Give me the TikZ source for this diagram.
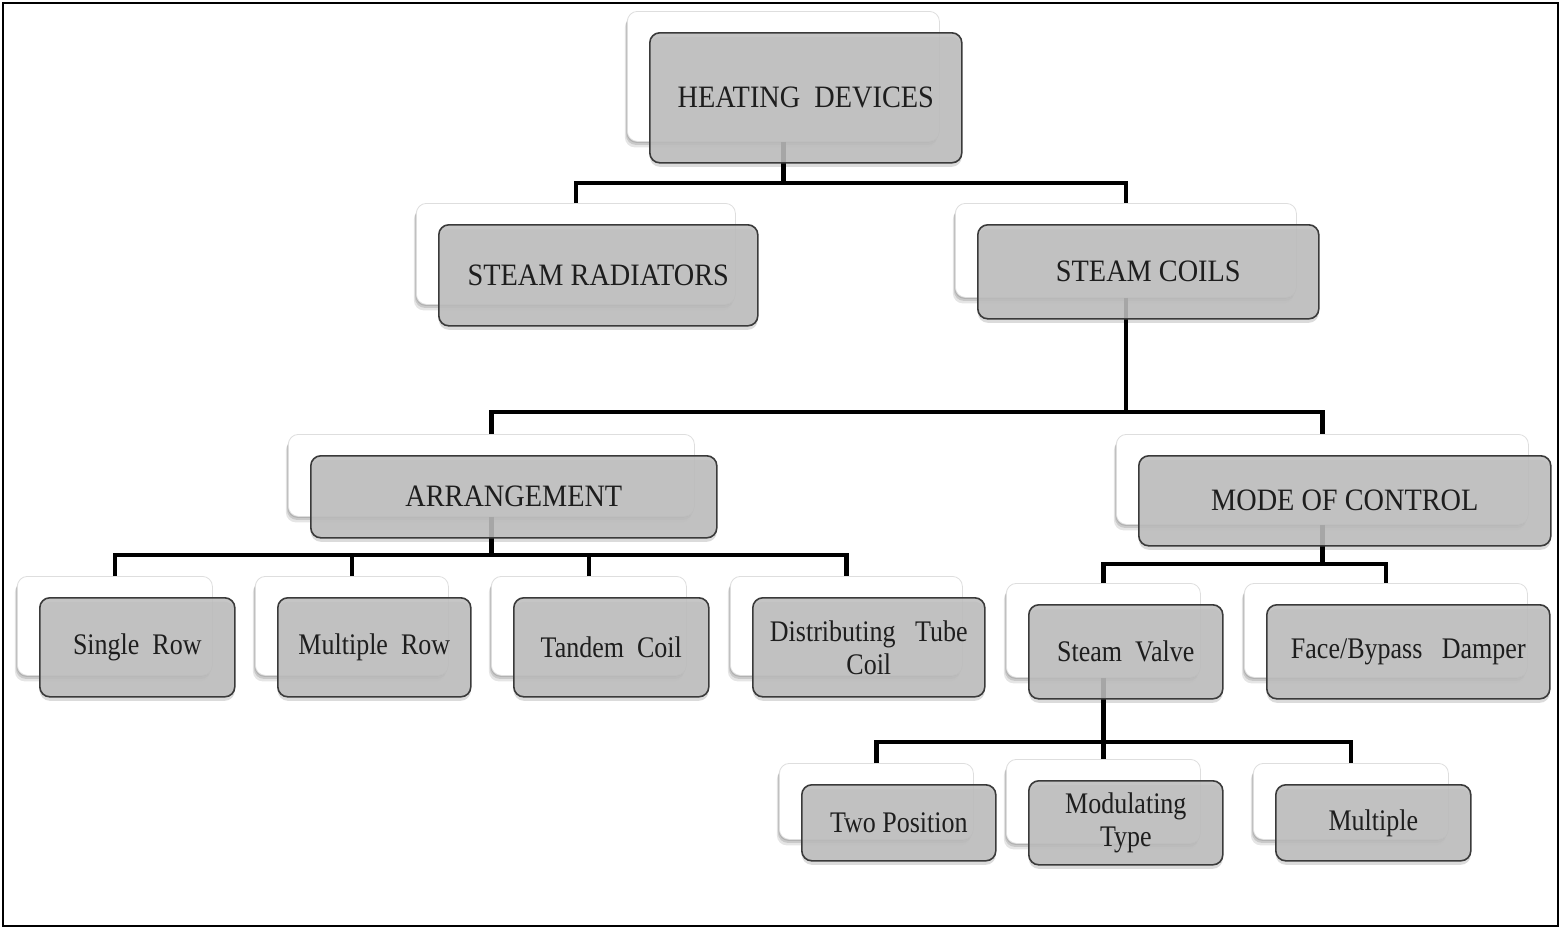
\documentclass[tikz,border=0pt]{standalone}
\usepackage{fontspec}
\usepackage{graphicx}
\setmainfont{Liberation Serif}
\usetikzlibrary{shadows,calc}
\pgfdeclarelayer{bg}\pgfdeclarelayer{mid}
\pgfsetlayers{bg,mid,main}
\definecolor{boxgray}{HTML}{BEBEBE}
\definecolor{edgegray}{HTML}{3A3A3A}
\definecolor{txtgray}{HTML}{1E1E1E}
\tikzset{
  backbox/.style={rounded corners=10pt, fill=white, draw=black!13, line width=0.8pt,
    inner sep=0pt, anchor=north west,
    general shadow={fill=black, opacity=0.10, shadow xshift=-2.5pt, shadow yshift=-6pt},
    general shadow={fill=black, opacity=0.12, shadow xshift=-1.5pt, shadow yshift=-3.5pt},
    general shadow={fill=black, opacity=0.12, shadow xshift=-0.8pt, shadow yshift=-1.5pt}},
  frontbox/.style={rounded corners=10pt, fill=boxgray, fill opacity=0.88, text opacity=1,
    draw=edgegray, line width=1.6pt, inner sep=2pt, anchor=north west, align=center,
    text=txtgray, font=\fontsize{26}{33}\selectfont,
    general shadow={fill=black, opacity=0.14, shadow yshift=-4pt}},
  conn/.style={line width=4.3pt, black},
  frame/.style={line width=2pt, black}
}
\newcommand\tx[1]{\scalebox{1}[1.15]{#1}}
\newcommand\txc[1]{{\fontsize{28.3}{34}\selectfont\scalebox{1}[1.1]{#1}}}
\newcommand\mkdev[6]{%
  \begin{pgfonlayer}{bg}
    \node[backbox, minimum width=#4pt, minimum height=#5pt] (#1b) at ({#2-22},{#3-21}) {};
  \end{pgfonlayer}
  \node[frontbox, minimum width=#4pt, minimum height=#5pt] (#1) at (#2,#3) {#6};}
\begin{document}
\begin{tikzpicture}[x=1pt,y=-1pt]
\useasboundingbox (0,0) rectangle (1562,929);
\draw[frame] (3,3) rectangle (1558,926);
\mkdev{hd}{649}{32}{312}{130}{\txc{HEATING~~DEVICES}}
\mkdev{sr}{438}{224}{319}{101}{\txc{STEAM RADIATORS}}
\mkdev{sc}{977}{224}{341}{94}{\txc{STEAM COILS}}
\mkdev{ar}{310}{455}{406}{82}{\txc{ARRANGEMENT}}
\mkdev{mc}{1138}{455}{412}{90}{\txc{MODE OF CONTROL}}
\mkdev{sg}{39}{597}{195}{99}{\tx{Single~~Row}}
\mkdev{mr}{277}{597}{193}{99}{\tx{Multiple~~Row}}
\mkdev{tc}{513}{597}{195}{99}{\tx{Tandem~~Coil}}
\mkdev{dt}{752}{597}{232}{99}{\tx{Distributing~~~Tube}\\\tx{Coil}}
\mkdev{sv}{1028}{604}{194}{94}{\tx{Steam~~Valve}}
\mkdev{fb}{1266}{604}{283}{94}{\tx{Face/Bypass~~~Damper}}
\mkdev{tp}{801}{784}{194}{76}{\tx{Two Position}}
\mkdev{mt}{1028}{780}{194}{84}{\tx{Modulating}\\\tx{Type}}
\mkdev{mu}{1275}{784}{195}{76}{\tx{Multiple}}
\begin{pgfonlayer}{mid}
  \coordinate (r1) at (0,183);
  \coordinate (r2) at (0,412);
  \coordinate (r3) at (0,555);
  \coordinate (r4) at (0,564);
  \coordinate (r5) at (0,742);
  \draw[conn] (hdb.south) -- (hdb.south |- r1);
  \draw[conn] (srb.north) -- (srb.north |- r1) -- (scb.north |- r1) -- (scb.north);
  \draw[conn] (scb.south) -- (scb.south |- r2);
  \draw[conn] (arb.north) -- (arb.north |- r2) -- (mcb.north |- r2) -- (mcb.north);
  \draw[conn] (arb.south) -- (arb.south |- r3);
  \draw[conn] (sgb.north) -- (sgb.north |- r3) -- (dtb.north |- r3) -- (dtb.north);
  \draw[conn] (mrb.north) -- (mrb.north |- r3);
  \draw[conn] (tcb.north) -- (tcb.north |- r3);
  \draw[conn] (mcb.south) -- (mcb.south |- r4);
  \draw[conn] (svb.north) -- (svb.north |- r4) -- (fbb.north |- r4) -- (fbb.north);
  \draw[conn] (svb.south) -- (svb.south |- r5);
  \draw[conn] (tpb.north) -- (tpb.north |- r5) -- (mub.north |- r5) -- (mub.north);
  \draw[conn] (mtb.north) -- (mtb.north |- r5);
\end{pgfonlayer}
\end{tikzpicture}
\end{document}
